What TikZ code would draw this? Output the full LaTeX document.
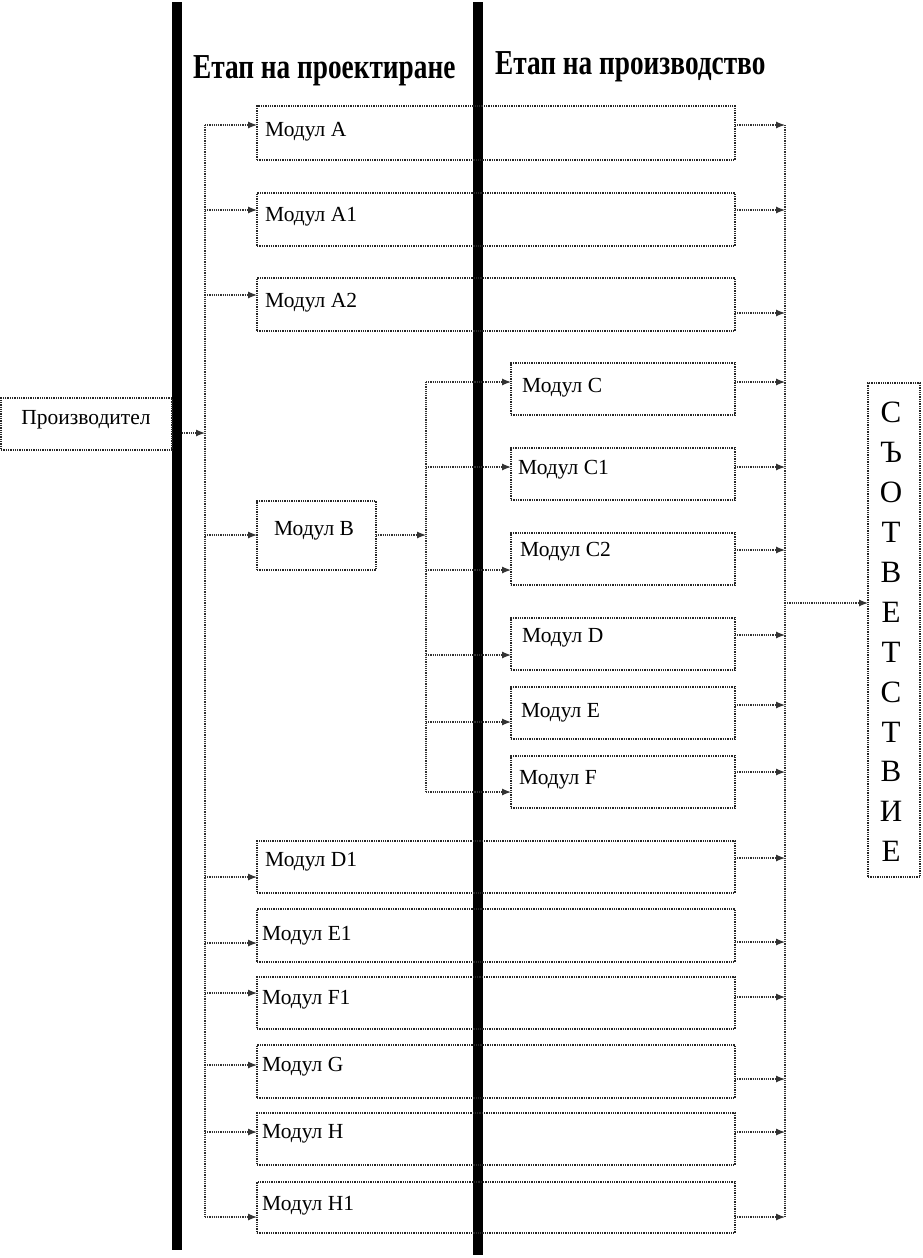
\documentclass[tikz,border=0pt]{standalone}
\usepackage{fontspec}
\setmainfont{Liberation Serif}
\usetikzlibrary{arrows.meta}
\begin{document}
\begin{tikzpicture}[x=1pt,y=-1pt,
  box/.style={draw=black!85, densely dotted, line width=1.3pt, inner sep=0pt, outer sep=0pt},
  conn/.style={draw=black!80, densely dotted, line width=1.2pt},
  arr/.style={conn, -{Latex[length=9pt,width=7pt]}},
  txt/.style={font=\fontsize{21.5}{24}\selectfont, inner sep=0pt},
  ttl/.style={font=\fontsize{35}{40}\selectfont\bfseries, inner sep=0pt},
  bar/.style={fill=black, draw=none, inner sep=0pt, outer sep=0pt, minimum width=10pt}]
\useasboundingbox (0,0) rectangle (922,1258);
% thick stage bars
\node[bar, minimum height=1248pt, anchor=north] (bar1) at (177,2) {};
\node[bar, minimum height=1253pt, anchor=north] (bar2) at (478,2) {};
% titles
\node[ttl, anchor=west] (T1) at (193,71) {\scalebox{0.78}[1]{Етап на проектиране}};
\node[ttl, anchor=west] (T2) at (495,67) {\scalebox{0.78}[1]{Етап на производство}};
% producer
\node[box, anchor=north west, minimum width=171pt, minimum height=52pt, txt] (P) at (1,398) {};
\node[txt] (tP) at (86,420) {Производител};
\coordinate (lP) at (205,433);
\draw[arr] (bar1.east |- lP) -- (lP);
% modules
\foreach \n/\xl/\xb/\t/\b/\i/\o/\ty/\tx/\lab in {
  A/257/205/106/160/125/125/132/265/Модул A,
  A1/257/205/193/246/210/210/217/265/Модул A1,
  A2/257/205/278/331/295/313/303/265/Модул A2,
  C/511/426/363/415/382/382/388/522/Модул C,
  C1/511/426/448/500/467/467/470/518/Модул C1,
  C2/511/426/533/585/570/550/552/520/Модул C2,
  D/511/426/618/670/655/635/638/522/Модул D,
  E/511/426/687/739/722/705/713/521/Модул E,
  F/511/426/756/808/792/772/780/519/Модул F,
  D1/257/205/841/893/877/858/862/265/Модул D1,
  E1/257/205/909/962/943/942/936/262/Модул E1,
  F1/257/205/977/1029/993/997/1000/262/Модул F1,
  G/257/205/1045/1098/1065/1079/1067/262/Модул G,
  H/257/205/1113/1165/1132/1132/1134/262/Модул H,
  H1/257/205/1182/1233/1217/1217/1206/262/Модул H1}
{
  \node[box, anchor=north west, minimum width={735-\xl}, minimum height={\b-\t}] (\n) at (\xl,\t) {};
  \node[txt, anchor=west] (t\n) at (\tx,\ty) {\lab};
  \coordinate (in\n) at (\xb,\i);
  \coordinate (out\n) at (785,\o);
  \draw[arr] (in\n) -- (\n.west |- in\n);
  \draw[arr] (\n.east |- out\n) -- (out\n);
}
% module B
\node[box, anchor=north west, minimum width=119pt, minimum height=69pt] (B) at (257,501) {};
\node[txt] (tB) at (314,531) {Модул B};
\coordinate (inB) at (205,535);
\coordinate (sB) at (426,535);
\draw[arr] (inB) -- (B.west |- inB);
\draw[arr] (B.east |- sB) -- (sB);
% buses
\draw[conn] (inA) -- (inH1);
\draw[conn] (inC) -- (inF);
\draw[conn] (outA) -- (outH1);
% conformity
\node[box, anchor=north west, minimum width=52pt, minimum height=494pt] (S) at (868,383) {};
\node[font=\fontsize{31}{39.9}\selectfont, align=center, inner sep=0pt] (tS) at (891,632)
  {С\\Ъ\\О\\Т\\В\\Е\\Т\\С\\Т\\В\\И\\Е};
\coordinate (o) at (785,603);
\draw[arr] (o) -- (S.west |- o);
\end{tikzpicture}
\end{document}
